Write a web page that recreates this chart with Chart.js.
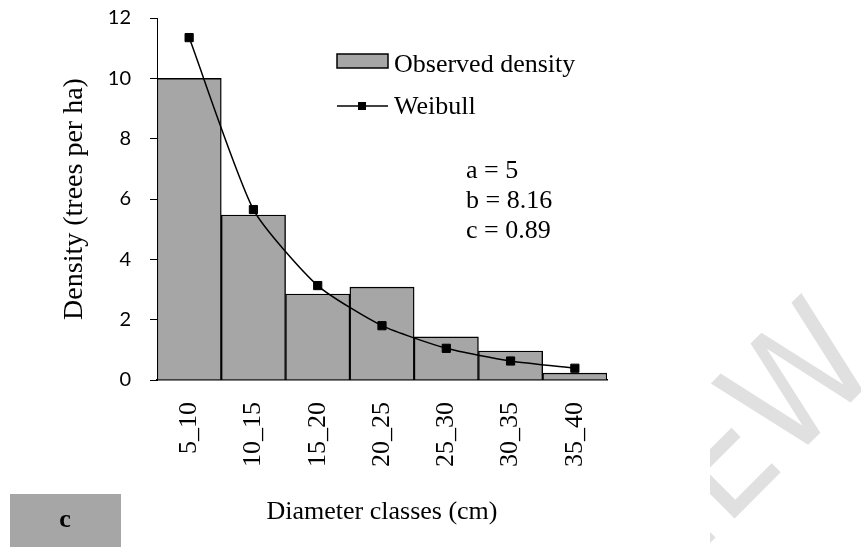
<!DOCTYPE html>
<html>
<head>
<meta charset="utf-8">
<script src="https://cdn.jsdelivr.net/npm/chart.js@4.4.1/dist/chart.umd.min.js"></script>
<style>
  html, body { margin: 0; padding: 0; background: #fff; }
</style>
</head>
<body>
<canvas id="grafico" width="861" height="548"></canvas>
<script>
// =======================
// DATOS
// =======================
const categorias = ["5_10", "10_15", "15_20", "20_25", "25_30", "30_35", "35_40"];
const observada = [10, 5.47, 2.85, 3.08, 1.43, 0.96, 0.23];
const weibull = [11.35, 5.65, 3.13, 1.80, 1.05, 0.63, 0.39];
const parametros = ["a = 5", "b = 8.16", "c = 0.89"];
const yMin = 0;
const yMax = 12;
const yPaso = 2;

const SERIF = '"Liberation Serif", "Times New Roman", serif';
const GRIS = "#a6a6a6";

// =======================
// FONDO, MARCA DE AGUA, RECUADRO "c"
// =======================
const fondo = {
  id: "fondo",
  beforeDraw(chart) {
    const ctx = chart.ctx;
    ctx.save();
    ctx.fillStyle = "#fff";
    ctx.fillRect(0, 0, chart.width, chart.height);

    // marca de agua recortada
    ctx.beginPath();
    ctx.rect(710, 0, chart.width - 710, chart.height);
    ctx.clip();
    ctx.translate(787, 466);
    ctx.rotate(-Math.PI / 4);
    ctx.fillStyle = "#e0e0e0";
    ctx.font = '154px "Liberation Sans Narrow", "DejaVu Sans Condensed", sans-serif';
    ctx.textBaseline = "alphabetic";
    ctx.textAlign = "right";
    ctx.fillText("PREVIE", 0, 0);
    ctx.textAlign = "left";
    ctx.fillText("W", 0, 0);
    ctx.restore();

    // recuadro gris con la letra del panel
    ctx.save();
    ctx.fillStyle = GRIS;
    ctx.fillRect(10, 494, 111, 53);
    ctx.fillStyle = "#000";
    ctx.font = "bold 26px " + SERIF;
    ctx.textAlign = "center";
    ctx.textBaseline = "middle";
    ctx.fillText("c", 65, 520);
    ctx.restore();
  }
};

// =======================
// LEYENDA Y PARÁMETROS
// =======================
const leyenda = {
  id: "leyenda",
  afterDatasetsDraw(chart) {
    const ctx = chart.ctx;
    const ds = chart.data.datasets;
    ctx.save();

    // barra
    ctx.fillStyle = ds[0].backgroundColor;
    ctx.fillRect(337, 54, 51, 14);
    ctx.strokeStyle = "#000";
    ctx.lineWidth = 1.5;
    ctx.strokeRect(337, 54, 51, 14);

    // línea con marcador
    ctx.beginPath();
    ctx.moveTo(337, 106);
    ctx.lineTo(388, 106);
    ctx.lineWidth = 1.5;
    ctx.stroke();
    ctx.fillStyle = "#000";
    ctx.fillRect(358, 102, 8, 8);

    ctx.font = "26px " + SERIF;
    ctx.textAlign = "left";
    ctx.textBaseline = "alphabetic";
    ctx.fillText(ds[0].label, 394, 72);
    ctx.fillText(ds[1].label, 394, 114);

    // parámetros de la Weibull
    ctx.textBaseline = "middle";
    parametros.forEach((p, i) => {
      ctx.fillText(p, 466, 171 + i * 30);
    });

    ctx.restore();
  }
};

// =======================
// GRÁFICO
// =======================
new Chart(document.getElementById("grafico"), {
  type: "bar",
  data: {
    labels: categorias,
    datasets: [
      {
        type: "bar",
        label: "Observed density",
        data: observada,
        backgroundColor: GRIS,
        borderColor: "#000",
        borderWidth: 1.4,
        barPercentage: 1,
        categoryPercentage: 1,
        order: 1
      },
      {
        type: "line",
        label: "Weibull",
        data: weibull,
        borderColor: "#000",
        borderWidth: 1.5,
        backgroundColor: "#000",
        pointStyle: "rect",
        pointRadius: 5.8,
        pointBorderWidth: 1,
        pointBackgroundColor: "#000",
        tension: 0.2,
        order: 0
      }
    ]
  },
  options: {
    responsive: false,
    animation: false,
    devicePixelRatio: 1,
    layout: {
      padding: { top: 18, right: 254, bottom: 0, left: 0 }
    },
    plugins: {
      legend: { display: false },
      tooltip: { enabled: false }
    },
    scales: {
      x: {
        grid: { display: false, drawTicks: false },
        border: { color: "#000", width: 1.4 },
        ticks: {
          color: "#000",
          font: { family: SERIF, size: 26 },
          maxRotation: 90,
          minRotation: 90,
          padding: 22
        },
        title: {
          display: true,
          text: "Diameter classes (cm)",
          color: "#000",
          font: { family: SERIF, size: 26 },
          padding: { top: 0, bottom: 20 }
        },
        afterFit(scale) { scale.height = 168; }
      },
      y: {
        min: yMin,
        max: yMax,
        grid: {
          drawOnChartArea: false,
          drawTicks: true,
          tickLength: 7,
          color: "#000"
        },
        border: { color: "#000", width: 1 },
        ticks: {
          stepSize: yPaso,
          color: "#000",
          font: { family: "Lato", size: 20 },
          padding: 19
        },
        title: {
          display: true,
          text: "Density (trees per ha)",
          color: "#000",
          font: { family: SERIF, size: 28 },
          padding: { top: 58, bottom: 0 }
        },
        afterFit(scale) {
          scale.width = 157;
          // el padding de las etiquetas no debe empujar el área del gráfico
          scale.paddingTop = 0;
          scale.paddingBottom = 0;
        }
      }
    }
  },
  plugins: [fondo, leyenda]
});
</script>
</body>
</html>
